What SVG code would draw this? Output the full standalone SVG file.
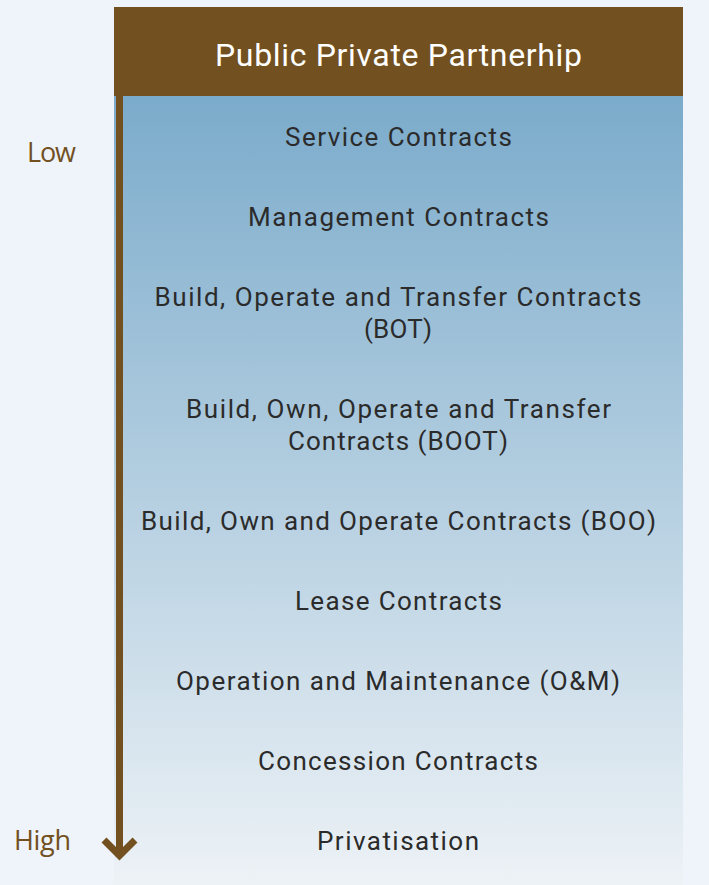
<svg xmlns="http://www.w3.org/2000/svg" width="709" height="885" viewBox="0 0 709 885">
<defs>
<linearGradient id="panel" x1="0" y1="0" x2="0" y2="1">
<stop offset="0" stop-color="#7BABCB"/>
<stop offset="1" stop-color="#EDF2F6"/>
</linearGradient>
<style>
.item{font-family:Roboto,"Liberation Sans",sans-serif;font-size:26px;fill:#2B2B2B;text-anchor:middle}
.axis{font-family:"Open Sans","Liberation Sans",sans-serif;font-size:27px;fill:#72501F}
</style>
</defs>
<rect width="709" height="885" fill="#EEF4F9"/>
<g id="panel-bg"><rect x="114" y="96" width="569" height="789" fill="url(#panel)"/></g>
<g id="header">
<rect x="114" y="7" width="569" height="89" fill="#72501F"/>
<text x="398.5" y="66" text-anchor="middle" font-family="Roboto,'Liberation Sans',sans-serif" font-size="32" fill="#FFFFFF" textLength="367">Public Private Partnerhip</text>
</g>
<g id="connectors">
<line x1="119.5" y1="96" x2="119.5" y2="856" stroke="#72501F" stroke-width="7"/>
<polyline points="104,840 119.5,855.5 135,840" fill="none" stroke="#72501F" stroke-width="7"/>
</g>
<g id="low"><text class="axis" x="27" y="162" textLength="49">Low</text></g>
<g id="high"><text class="axis" x="14" y="850" textLength="57">High</text></g>
<g id="n1"><text class="item" x="398.5" y="146" textLength="227">Service Contracts</text></g>
<g id="n2"><text class="item" x="398.5" y="226" textLength="301">Management Contracts</text></g>
<g id="n3"><text class="item" x="398" y="306" textLength="487">Build, Operate and Transfer Contracts</text><text class="item" x="398" y="338" textLength="68">(BOT)</text></g>
<g id="n4"><text class="item" x="398.5" y="418" textLength="425">Build, Own, Operate and Transfer</text><text class="item" x="398" y="450" textLength="220">Contracts (BOOT)</text></g>
<g id="n5"><text class="item" x="398.5" y="530" textLength="515">Build, Own and Operate Contracts (BOO)</text></g>
<g id="n6"><text class="item" x="398.5" y="610" textLength="207">Lease Contracts</text></g>
<g id="n7"><text class="item" x="398" y="690" textLength="444">Operation and Maintenance (O&amp;M)</text></g>
<g id="n8"><text class="item" x="398" y="770" textLength="280">Concession Contracts</text></g>
<g id="n9"><text class="item" x="398" y="850" textLength="162">Privatisation</text></g>
</svg>
